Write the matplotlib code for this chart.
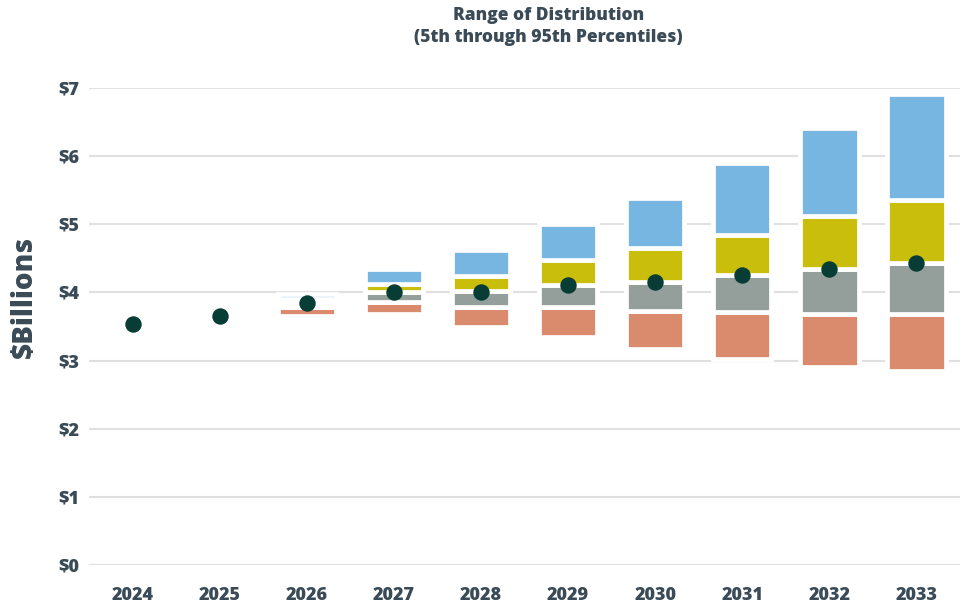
import numpy as np
import matplotlib
matplotlib.use('Agg')
import matplotlib.pyplot as plt

# --- data ---
years = ['2024', '2025', '2026', '2027', '2028', '2029', '2030', '2031', '2032', '2033']
p5 = [np.nan, np.nan, 3.66, 3.68, 3.49, 3.35, 3.17, 3.03, 2.90, 2.85]
p25 = [np.nan, np.nan, 3.78, 3.86, 3.79, 3.79, 3.73, 3.71, 3.69, 3.69]
p50 = [np.nan, np.nan, 3.84, 4.00, 4.02, 4.11, 4.15, 4.25, 4.34, 4.43]
p75 = [np.nan, np.nan, 3.90, 4.13, 4.24, 4.47, 4.65, 4.85, 5.12, 5.35]
p95 = [np.nan, np.nan, 3.97, 4.35, 4.62, 5.00, 5.38, 5.90, 6.41, 6.91]
point = [3.54, 3.66, 3.84, 4.01, 4.01, 4.11, 4.16, 4.26, 4.34, 4.43]

c_orange = '#da8b6e'
c_gray = '#949f9c'
c_yellow = '#c8be0b'
c_blue = '#78b6e2'
c_dot = '#073d34'
c_text = '#3a4b57'
FONT = 'Open Sans'
HEAVY = 800

p5, p25, p50, p75, p95 = (np.array(a, dtype=float) for a in (p5, p25, p50, p75, p95))
x = np.arange(len(years))

fig = plt.figure(figsize=(9.61, 6.09), dpi=100)
ax = fig.add_axes([0.0926, 0.0722, 0.9064, 0.7833])

bar_w = 0.67
edge = dict(edgecolor='white', linewidth=3.4, zorder=2)
ax.bar(x, p25 - p5, bottom=p5, width=bar_w, color=c_orange, **edge)
ax.bar(x, p50 - p25, bottom=p25, width=bar_w, color=c_gray, **edge)
ax.bar(x, p75 - p50, bottom=p50, width=bar_w, color=c_yellow, **edge)
ax.bar(x, p95 - p75, bottom=p75, width=bar_w, color=c_blue, **edge)

ax.scatter(x, point, s=140, color=c_dot, zorder=4, linewidths=0)

ax.set_xlim(-0.5, len(years) - 0.5)
ax.set_ylim(0, 7)
ax.set_yticks(range(8))
ax.set_yticklabels([f'${v}' for v in range(8)])
ax.set_xticks(x)
ax.set_xticklabels(years)

ax.grid(axis='y', color='#e0e0e0', linewidth=1.5, zorder=0)
ax.set_axisbelow(True)
for s in ax.spines.values():
    s.set_visible(False)

ax.tick_params(axis='both', length=0, colors=c_text)
ax.tick_params(axis='y', pad=7)
ax.tick_params(axis='x', pad=16)
for lab in ax.get_xticklabels() + ax.get_yticklabels():
    lab.set_fontfamily(FONT)
    lab.set_fontweight(HEAVY)
    lab.set_fontsize(13)

fig.text(0.025, 0.512, '$Billions', rotation=90, ha='center', va='center',
         fontsize=20, fontweight=HEAVY, color=c_text, family=FONT)

fig.text(0.571, 0.974, 'Range of Distribution', ha='center', va='center',
         fontsize=12.5, fontweight=HEAVY, color=c_text, family=FONT)
fig.text(0.571, 0.938, '(5th through 95th Percentiles)', ha='center', va='center',
         fontsize=12.5, fontweight=HEAVY, color=c_text, family=FONT)

fig.savefig('out.png', dpi=100)
